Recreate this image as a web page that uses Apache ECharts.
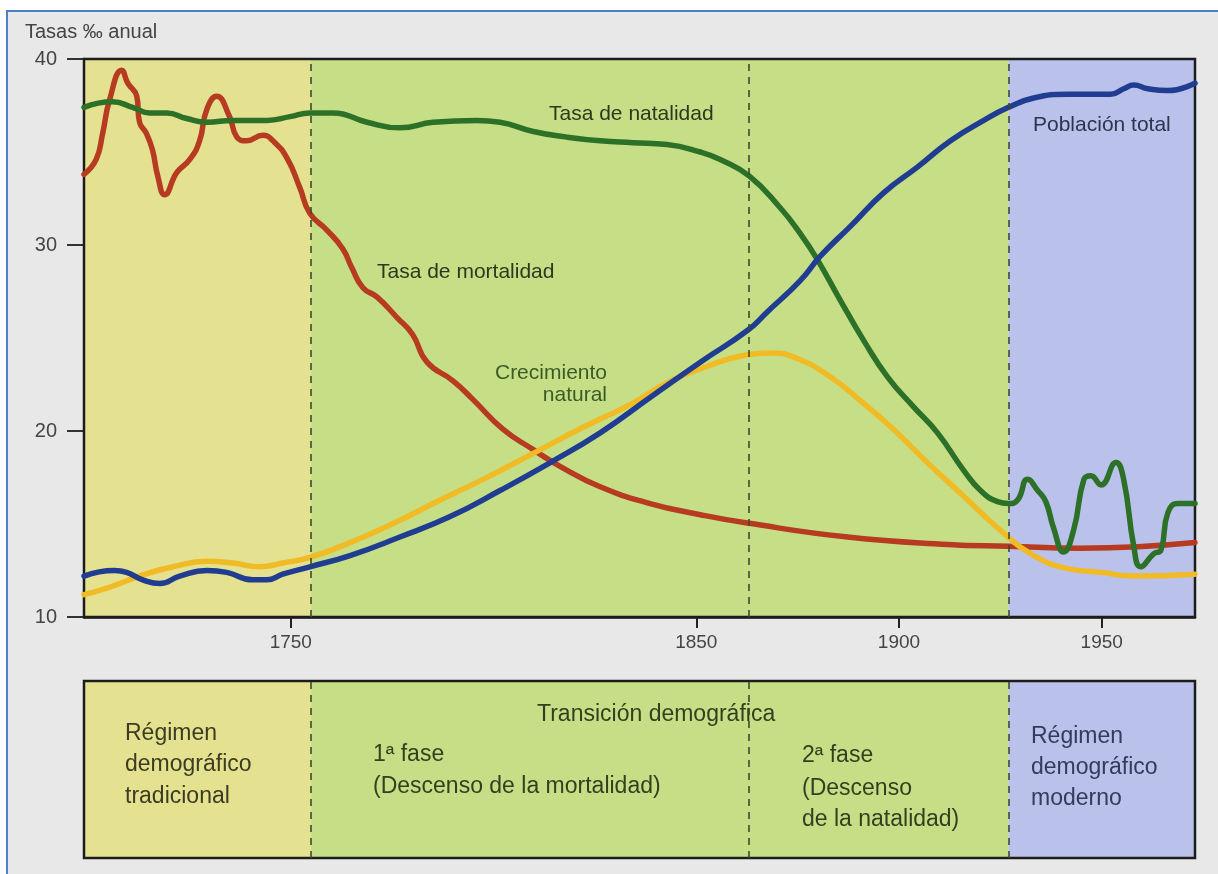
<!DOCTYPE html>
<html>
<head>
<meta charset="utf-8">
<script src="https://cdn.jsdelivr.net/npm/echarts@6/dist/echarts.min.js"></script>
<style>html,body{margin:0;padding:0;background:#fff}#c{width:1218px;height:874px}</style>
</head>
<body>
<div id="c"></div>
<script>
// ---- data (year, ‰) ----
const mortalityData = [[1699,33.8],[1702,34.6],[1703.6,36.0],[1705.3,37.8],[1708.3,39.4],[1709.8,38.7],[1712,38.0],[1712.7,36.6],[1714.4,36.0],[1715.9,35.1],[1717.2,33.7],[1718.9,32.7],[1721.9,33.9],[1725.1,34.6],[1727.5,35.6],[1729.3,37.3],[1731.7,38.0],[1734.9,36.9],[1736.7,35.8],[1739.1,35.6],[1743.1,35.9],[1745.6,35.6],[1749,34.7],[1752.2,33.1],[1754.7,31.7],[1758.9,30.8],[1762.8,29.8],[1765,28.8],[1767.8,27.7],[1771.3,27.2],[1776.2,26.1],[1780,25.2],[1783.6,23.7],[1790,22.7],[1794.9,21.7],[1802.3,20.1],[1809.8,19.0],[1816.4,18.1],[1826.3,17.0],[1838.6,16.1],[1851,15.5],[1862.6,15.05],[1887.3,14.3],[1912,13.9],[1927,13.8],[1944.8,13.7],[1973,14.0]];
const natalityData = [[1699,37.4],[1706,37.7],[1711,37.4],[1715.2,37.1],[1719.4,37.1],[1724.3,36.8],[1729.3,36.6],[1735.7,36.7],[1744.1,36.7],[1749.8,36.9],[1754.7,37.1],[1760.4,37.1],[1768.8,36.6],[1776.9,36.3],[1785.1,36.6],[1795.9,36.7],[1801.6,36.6],[1809.8,36.1],[1818.1,35.8],[1826.3,35.6],[1834.4,35.5],[1842.8,35.4],[1851,35.0],[1855.9,34.6],[1863.1,33.7],[1870.7,32.0],[1875.7,30.6],[1879.9,29.2],[1885.6,27.0],[1891.2,24.9],[1897.2,22.9],[1903.6,21.3],[1909.5,19.9],[1915.9,17.9],[1920.1,16.8],[1924.3,16.2],[1927,16.1],[1929.3,16.3],[1931.7,17.4],[1934.2,16.8],[1936.2,16.2],[1938.1,14.8],[1940.6,13.5],[1943.1,14.7],[1945.6,17.4],[1947.3,17.6],[1949.8,17.1],[1953.5,18.3],[1955.4,17.4],[1957.9,13.8],[1959.6,12.7],[1962.8,13.4],[1964.6,13.6],[1966.3,15.6],[1968.8,16.1],[1973,16.1]];
const growthData = [[1699,11.2],[1705.3,11.6],[1712.7,12.2],[1720.9,12.7],[1729.3,13.0],[1735.7,12.9],[1742.3,12.7],[1748,12.9],[1754.7,13.2],[1764.6,14.0],[1776.9,15.2],[1785.1,16.1],[1797.4,17.4],[1809.8,18.8],[1822.1,20.2],[1834.4,21.5],[1842.8,22.6],[1851.7,23.4],[1862.6,24.1],[1868.3,24.2],[1874.9,23.9],[1883.1,22.9],[1891.2,21.5],[1898.6,20.1],[1907,18.3],[1915.9,16.5],[1924.3,14.8],[1932.5,13.4],[1941.6,12.6],[1949.8,12.4],[1957.9,12.2],[1973,12.3]];
const populationData = [[1699,12.2],[1706.5,12.5],[1709.5,12.4],[1713.5,12.0],[1717.7,11.8],[1722.6,12.2],[1729.3,12.5],[1734.2,12.4],[1740.6,12.0],[1744.1,12.0],[1748,12.3],[1754.7,12.7],[1764.6,13.3],[1776.9,14.3],[1789.3,15.4],[1801.6,16.8],[1814,18.3],[1826.3,19.9],[1838.6,21.8],[1851,23.7],[1862.6,25.4],[1867.5,26.4],[1875.7,28.1],[1880.6,29.4],[1888,31.0],[1896.2,32.8],[1904.6,34.2],[1912.7,35.6],[1920.9,36.7],[1927,37.4],[1933.2,37.9],[1941.6,38.1],[1952.2,38.1],[1955.4,38.4],[1957.9,38.6],[1961.4,38.4],[1966.3,38.3],[1973,38.7]];
const xTickYears = [1750, 1850, 1900, 1950];
const phaseBounds = [1699, 1755, 1927, 1973];      // traditional | transition | modern
const phaseDividers = [1755, 1863, 1927];
const seriesNames = ['Tasa de mortalidad', 'Crecimiento natural', 'Tasa de natalidad', 'Población total'];

const X_MIN = 1699, X_MAX = 1973;
const regionColors = ['#e4e290', '#c6df87', '#bac1ea'];
const FONT = 'Liberation Sans, Arial, sans-serif';

function regionAreas() {
  const a = [];
  for (let i = 0; i < 3; i++) {
    a.push([{ xAxis: phaseBounds[i], itemStyle: { color: regionColors[i] } }, { xAxis: phaseBounds[i + 1] }]);
  }
  return a;
}
function dividerLines() {
  return phaseDividers.map(v => ({ xAxis: v }));
}
function regionSeries(xi, yi) {
  return {
    type: 'line', xAxisIndex: xi, yAxisIndex: yi, data: [], z: -1, silent: true,
    markArea: { silent: true, data: regionAreas(), itemStyle: { opacity: 1 } },
    markLine: { silent: true, symbol: 'none', label: { show: false },
      lineStyle: { color: '#3e4a30', type: [7, 6], width: 1.6 }, data: dividerLines() }
  };
}
function lineSeries(name, data, color) {
  return {
    name, type: 'line', data, showSymbol: false, smooth: 0.5,
    lineStyle: { color, width: 5.5, cap: 'round', join: 'round' }, itemStyle: { color }, z: 3
  };
}
function txt(text, x, y, size, fill, align) {
  return { type: 'text', z: 50, style: { text, x, y, font: size + 'px ' + FONT, fill,
    textAlign: align || 'left', textVerticalAlign: 'middle' } };
}

const chart = echarts.init(document.getElementById('c'));
chart.setOption({
  backgroundColor: '#ffffff',
  animation: false,
  grid: [
    { left: 84, right: 23, top: 59, bottom: 257, show: true, backgroundColor: 'transparent', borderColor: '#1c1c1c', borderWidth: 2.5, z: 2 },
    { left: 84, right: 23, top: 681, bottom: 16, show: true, backgroundColor: 'transparent', borderColor: '#1c1c1c', borderWidth: 2.5, z: 2 }
  ],
  xAxis: [
    { type: 'value', gridIndex: 0, min: X_MIN, max: X_MAX, position: 'bottom',
      axisLine: { show: true, lineStyle: { color: '#1c1c1c', width: 2.5 } },
      axisTick: { show: true, customValues: xTickYears, length: 11, lineStyle: { color: '#222', width: 2 } },
      axisLabel: { customValues: xTickYears, formatter: v => String(v), margin: 16, fontSize: 19, color: '#444', fontFamily: FONT },
      splitLine: { show: false } },
    { type: 'value', gridIndex: 1, min: X_MIN, max: X_MAX, show: false, splitLine: { show: false } },
    { type: 'value', gridIndex: 0, min: X_MIN, max: X_MAX, position: 'bottom', offset: 0,
      axisLine: { show: false },
      axisTick: { show: true, inside: true, customValues: xTickYears, length: 7, lineStyle: { color: '#222', width: 2 } },
      axisLabel: { show: false }, splitLine: { show: false } }
  ],
  yAxis: [
    { type: 'value', gridIndex: 0, min: 10, max: 40, interval: 10,
      axisLine: { show: true, lineStyle: { color: '#1c1c1c', width: 2.5 } },
      axisTick: { show: true, length: 17, lineStyle: { color: '#333', width: 2 } },
      axisLabel: { margin: 27, fontSize: 20, color: '#444', fontFamily: FONT },
      splitLine: { show: true, lineStyle: { color: 'rgba(45,55,30,0.85)', width: 1.5 } } },
    { type: 'value', gridIndex: 1, min: 0, max: 1, show: false, splitLine: { show: false } }
  ],
  series: [
    regionSeries(0, 0),
    regionSeries(1, 1),
    lineSeries(seriesNames[0], mortalityData, '#b73b20'),
    lineSeries(seriesNames[1], growthData, '#f0bb25'),
    lineSeries(seriesNames[2], natalityData, '#2d7027'),
    lineSeries(seriesNames[3], populationData, '#213d92')
  ],
  graphic: [
    { type: 'rect', z: -100, shape: { x: 7, y: 11, width: 1230, height: 890 },
      style: { fill: '#e8e8e8', stroke: '#4f7fc4', lineWidth: 2 } },
    txt('Tasas ‰ anual', 25, 32, 20, '#444'),
    txt('Tasa de natalidad', 549, 114, 21, '#2b3a1e'),
    txt('Tasa de mortalidad', 377, 272, 21, '#2b3a1e'),
    txt('Crecimiento', 607, 373, 21, '#3b5a26', 'right'),
    txt('natural', 607, 395, 21, '#3b5a26', 'right'),
    txt('Población total', 1033, 125, 21, '#2e3450'),
    txt('Régimen', 125, 734, 23, '#3c3c22'),
    txt('demográfico', 125, 765, 23, '#3c3c22'),
    txt('tradicional', 125, 797, 23, '#3c3c22'),
    txt('Transición demográfica', 537, 715, 23, '#33401f'),
    txt('1ª fase', 373, 755, 23, '#33401f'),
    txt('(Descenso de la mortalidad)', 373, 787, 23, '#33401f'),
    txt('2ª fase', 802, 756, 23, '#33401f'),
    txt('(Descenso', 802, 789, 23, '#33401f'),
    txt('de la natalidad)', 802, 820, 23, '#33401f'),
    txt('Régimen', 1031, 737, 23, '#363a5c'),
    txt('demográfico', 1031, 768, 23, '#363a5c'),
    txt('moderno', 1031, 799, 23, '#363a5c')
  ]
});
</script>
</body>
</html>
